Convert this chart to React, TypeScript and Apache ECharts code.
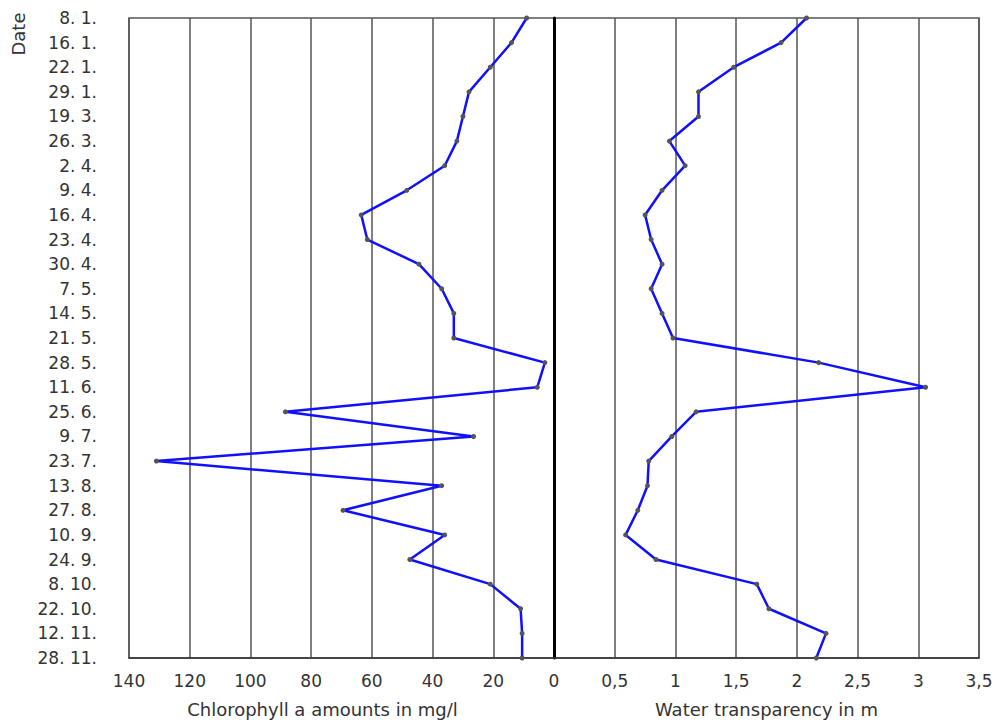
import React, { useEffect, useRef } from "react";
import * as echarts from "echarts";

const dates = [
  "8. 1.", "16. 1.", "22. 1.", "29. 1.", "19. 3.", "26. 3.", "2. 4.", "9. 4.", "16. 4.",
  "23. 4.", "30. 4.", "7. 5.", "14. 5.", "21. 5.", "28. 5.", "11. 6.", "25. 6.", "9. 7.",
  "23. 7.", "13. 8.", "27. 8.", "10. 9.", "24. 9.", "8. 10.", "22. 10.", "12. 11.", "28. 11.",
];

const chlorophyll = [
  9, 14, 21, 28, 30, 32, 36, 48.5, 63.5, 61.5, 44.5, 37, 33, 33, 3, 5.5, 88.5, 26.5, 131, 37,
  69.5, 36, 47.5, 21, 11, 10.5, 10.5,
];

const transparency = [
  2.08, 1.87, 1.48, 1.19, 1.19, 0.95, 1.08, 0.89, 0.75, 0.8, 0.89, 0.8, 0.89, 0.98, 2.18, 3.06,
  1.17, 0.97, 0.78, 0.77, 0.69, 0.59, 0.84, 1.67, 1.77, 2.24, 2.16,
];

const leftTitle = "Chlorophyll a amounts in mg/l";
const rightTitle = "Water transparency in m";
const yTitle = "Date";

const FONT = "DejaVu Sans";
const TEXT = "#333";
const GRIDC = "#555";

export default function App() {
  const ref = useRef<HTMLDivElement>(null);
  useEffect(() => {
    if (!ref.current) return;
    const chart = echarts.init(ref.current, null, { renderer: "svg" });
    const xCommon = {
      type: "value",
      axisTick: { show: false },
      axisLine: { show: true, lineStyle: { color: "#333", width: 1.5 } },
      splitLine: { show: true, lineStyle: { color: GRIDC, width: 1.5 } },
      axisLabel: { fontFamily: FONT, fontSize: 17, color: TEXT, margin: 14 },
      nameLocation: "middle",
      nameGap: 42,
    };
    chart.setOption({
      animation: false,
      backgroundColor: "#fff",
      grid: [
        { left: 129, top: 18, width: 425, height: 640, show: true, borderColor: GRIDC, borderWidth: 1.5, backgroundColor: "transparent" },
        { left: 554, top: 18, width: 425, height: 640, show: true, borderColor: GRIDC, borderWidth: 1.5, backgroundColor: "transparent" },
      ],
      xAxis: [
        {
          ...xCommon,
          gridIndex: 0,
          min: 0,
          max: 140,
          interval: 20,
          inverse: true,
          name: leftTitle,
          nameTextStyle: { fontFamily: FONT, fontSize: 18, color: TEXT, padding: [0, 38, 0, 0] },
        },
        {
          ...xCommon,
          gridIndex: 1,
          min: 0,
          max: 3.5,
          interval: 0.5,
          name: rightTitle,
          nameTextStyle: { fontFamily: FONT, fontSize: 18, color: TEXT },
          axisLabel: {
            ...xCommon.axisLabel,
            formatter: (v: number) => (v === 0 ? "" : String(v).replace(".", ",")),
          },
        },
      ],
      yAxis: [
        {
          type: "category",
          gridIndex: 0,
          data: dates,
          inverse: true,
          boundaryGap: false,
          axisTick: { show: false },
          axisLine: { show: true, lineStyle: { color: "#333", width: 1.5 } },
          splitLine: { show: false },
          axisLabel: { fontFamily: FONT, fontSize: 17, color: TEXT, margin: 32, interval: 0 },
        },
        {
          type: "category",
          gridIndex: 1,
          data: dates,
          inverse: true,
          boundaryGap: false,
          axisTick: { show: false },
          axisLabel: { show: false },
          axisLine: { show: true, lineStyle: { color: "#000", width: 3 } },
          splitLine: { show: false },
        },
      ],
      graphic: [
        {
          type: "text",
          x: 18,
          y: 34,
          rotation: Math.PI / 2,
          style: {
            text: yTitle,
            fontFamily: FONT,
            fontSize: 18,
            fill: TEXT,
            align: "center",
            verticalAlign: "middle",
          },
        },
      ],
      series: [
        {
          type: "line",
          xAxisIndex: 0,
          yAxisIndex: 0,
          data: chlorophyll.map((v, i) => [v, dates[i]]),
          symbol: "circle",
          symbolSize: 5,
          itemStyle: { color: "#555" },
          lineStyle: { color: "#1010ff", width: 2.5 },
          z: 5,
        },
        {
          type: "line",
          xAxisIndex: 1,
          yAxisIndex: 1,
          data: transparency.map((v, i) => [v, dates[i]]),
          symbol: "circle",
          symbolSize: 5,
          itemStyle: { color: "#555" },
          lineStyle: { color: "#1010ff", width: 2.5 },
          z: 5,
        },
      ],
    });
    return () => chart.dispose();
  }, []);
  return (
    <div
      ref={ref}
      style={{ position: "fixed", left: 0, top: 0, width: 999, height: 724, background: "#fff" }}
    />
  );
}
